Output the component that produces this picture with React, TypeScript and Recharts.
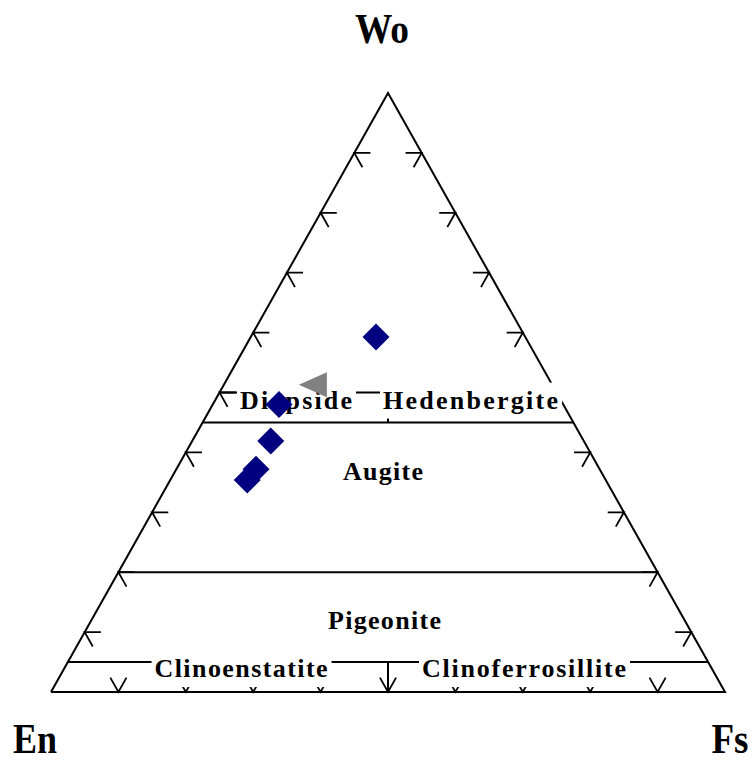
import { ScatterChart, Scatter, XAxis, YAxis } from 'recharts'

// compositions are [Wo, En, Fs] in percent
type Tern = [number, number, number]

const APEX_NAMES = ['Wo', 'En', 'Fs']
const APEX_COMPS: Tern[] = [
  [100, 0, 0],
  [0, 100, 0],
  [0, 0, 100],
]

const TICK_STEPS = [10, 20, 30, 40, 50, 60, 70, 80, 90]

// field boundaries of the pyroxene quadrilateral
const BOUNDARIES: Tern[][] = [
  [[50, 50, 0], [50, 0, 50]],
  [[45, 55, 0], [45, 0, 55]],
  [[45, 27.5, 27.5], [50, 25, 25]],
  [[20, 80, 0], [20, 0, 80]],
  [[5, 95, 0], [5, 0, 95]],
  [[0, 50, 50], [5, 47.5, 47.5]],
]

const FIELD_NAMES = ['Diopside', 'Hedenbergite', 'Augite', 'Pigeonite', 'Clinoenstatite', 'Clinoferrosillite']
const FIELD_POS: Tern[] = [
  [48.75, 39.27, 11.98],
  [48.75, 13.38, 37.87],
  [36.87, 32.31, 30.82],
  [11.96, 44.54, 43.5],
  [3.93, 69.84, 26.23],
  [3.93, 27.86, 68.21],
]

// samples
const CPX_SAMPLES: Tern[] = [
  [59.28, 22.14, 18.58],
  [48.0, 42.17, 9.83],
  [41.92, 46.44, 11.64],
  [37.17, 51.0, 11.83],
  [35.4, 53.18, 11.42],
]
const OTHER_SAMPLES: Tern[] = [[51.3, 35.5, 13.2]]

const toXY = ([wo, en, fs]: Tern) => {
  const s = wo + en + fs
  return { x: ((fs + wo / 2) * 100) / s, y: (wo * 100) / s }
}

const TICK_LEN = 2.4
const SERIF = '"Liberation Serif", "Times New Roman", serif'
const LABEL_WIDTH: Record<string, number> = {
  Diopside: 112, Hedenbergite: 175, Augite: 80, Pigeonite: 113, Clinoenstatite: 173, Clinoferrosillite: 204,
}
const APEX_STYLE: Record<string, { dx: number; dy: number; w: number }> = {
  Wo: { dx: -6, dy: -50, w: 54 },
  En: { dx: -16, dy: 61, w: 44 },
  Fs: { dx: 5, dy: 61, w: 37 },
}

function buildTicks(): Tern[][] {
  const d = TICK_LEN
  const out: Tern[][] = []
  TICK_STEPS.forEach((t) => {
    out.push([[t, 100 - t - d, d], [t, 100 - t, 0], [t - d, 100 - t, d]])
    out.push([[t, d, 100 - t - d], [t, 0, 100 - t], [t - d, d, 100 - t]])
    out.push([[d, 100 - t, t - d], [0, 100 - t, t], [d, 100 - t - d, t]])
  })
  return out
}

const noDot = () => <g />

// eslint-disable-next-line @typescript-eslint/no-explicit-any
const FieldLabel = (props: any) => {
  const { cx, cy, payload } = props
  const w = payload.w
  const base = cy + 8.6
  return (
    <g>
      <rect x={cx - w / 2 - 3} y={base - 26} width={w + 7} height={36} fill="#fff" />
      <text x={cx} y={base} textAnchor="middle" fontSize={26} fontWeight="bold" fontFamily={SERIF}
        textLength={w} lengthAdjust="spacing" fill="#000">
        {payload.name}
      </text>
    </g>
  )
}

// eslint-disable-next-line @typescript-eslint/no-explicit-any
const ApexLabel = (props: any) => {
  const { cx, cy, payload } = props
  const st = APEX_STYLE[payload.name]
  return (
    <text x={cx + st.dx} y={cy + st.dy} textAnchor="middle" fontSize={42} fontWeight="bold" fontFamily={SERIF}
      textLength={st.w} lengthAdjust="spacingAndGlyphs" fill="#000">
      {payload.name}
    </text>
  )
}

// eslint-disable-next-line @typescript-eslint/no-explicit-any
const Diamond = (props: any) => {
  const { cx, cy } = props
  const r = 13.5
  return <polygon points={`${cx},${cy - r} ${cx + r},${cy} ${cx},${cy + r} ${cx - r},${cy}`} fill="#000080" />
}

// eslint-disable-next-line @typescript-eslint/no-explicit-any
const LeftTriangle = (props: any) => {
  const { cx, cy } = props
  return <polygon points={`${cx - 14},${cy} ${cx + 14},${cy - 12.5} ${cx + 14},${cy + 12.5}`} fill="#808080" />
}

export default function App() {
  const outline = [APEX_COMPS[1], APEX_COMPS[0], APEX_COMPS[2], APEX_COMPS[1]].map(toXY)
  const ticks = buildTicks()
  const labels = FIELD_NAMES.map((name, i) => ({ ...toXY(FIELD_POS[i]), name, w: LABEL_WIDTH[name] }))
  const apexes = APEX_NAMES.map((name, i) => ({ ...toXY(APEX_COMPS[i]), name }))
  const lineStyle = { stroke: '#000', strokeWidth: 2 }

  return (
    <div style={{ width: 754, height: 762, background: '#fff' }}>
      <style>{'html, body { margin: 0; padding: 0; overflow: hidden; }'}</style>
      <ScatterChart width={754} height={762} margin={{ top: 93, right: 29, bottom: 70, left: 51 }}>
        <XAxis type="number" dataKey="x" domain={[0, 100]} hide />
        <YAxis type="number" dataKey="y" domain={[0, 100]} hide />
        <Scatter data={outline} line={lineStyle} shape={noDot} isAnimationActive={false} />
        {BOUNDARIES.map((seg, i) => (
          <Scatter key={`b${i}`} data={seg.map(toXY)} line={lineStyle} shape={noDot} isAnimationActive={false} />
        ))}
        {ticks.map((tk, i) => (
          <Scatter key={`t${i}`} data={tk.map(toXY)} line={{ stroke: '#000', strokeWidth: 1.8 }} shape={noDot} isAnimationActive={false} />
        ))}
        <Scatter data={labels} shape={FieldLabel} isAnimationActive={false} />
        <Scatter data={apexes} shape={ApexLabel} isAnimationActive={false} />
        <Scatter data={OTHER_SAMPLES.map(toXY)} shape={LeftTriangle} isAnimationActive={false} />
        <Scatter data={CPX_SAMPLES.map(toXY)} shape={Diamond} isAnimationActive={false} />
      </ScatterChart>
    </div>
  )
}
